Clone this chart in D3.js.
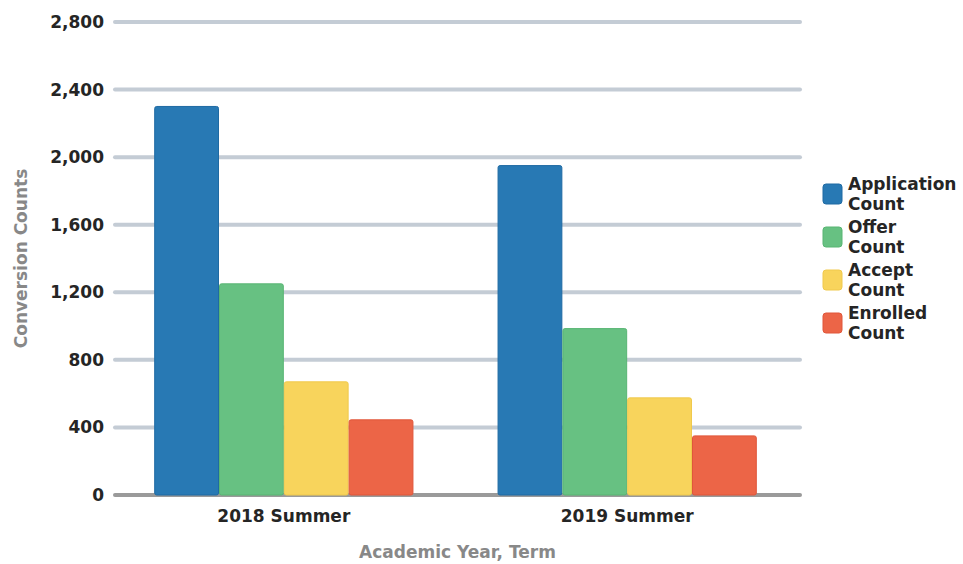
<!doctype html>
<html>
<head>
	<script src="https://d3js.org/d3.v7.min.js"></script>
	<style>
		body { margin: 0; background: #fff; }
		text { font-family: "DejaVu Sans", sans-serif; font-weight: bold; }
	</style>
</head>
<body>
	<svg id="chart" width="963" height="564"></svg>
	<script>
		var terms = ["2018 Summer", "2019 Summer"];
		var seriesNames = ["Application Count", "Offer Count", "Accept Count", "Enrolled Count"];
		var applicationCount = [2300, 1950];
		var offerCount = [1250, 985];
		var acceptCount = [670, 575];
		var enrolledCount = [445, 350];
		var yTicks = [0, 400, 800, 1200, 1600, 2000, 2400, 2800];
		var colors = ["#2879b4", "#67c182", "#f8d45c", "#ec6547"];
		var borders = ["#1f6aa3", "#58b573", "#f0c94c", "#e0563a"];

		var allValues = [applicationCount, offerCount, acceptCount, enrolledCount];

		var svg = d3.select("#chart");
		var plotLeft = 115, plotRight = 800, plotTop = 22, plotBottom = 495;

		var xScale = d3.scaleBand()
			.domain(terms)
			.range([plotLeft - 2, plotRight - 2])
			.paddingInner(0.245)
			.paddingOuter(0.12);

		var xSub = d3.scaleBand()
			.domain(seriesNames)
			.range([0, xScale.bandwidth()]);

		var yScale = d3.scaleLinear()
			.domain([0, 2800])
			.range([plotBottom, plotTop]);

		// gridlines
		svg.append("g")
			.selectAll("line")
			.data(yTicks)
			.enter()
			.append("line")
				.attr("x1", plotLeft)
				.attr("x2", plotRight)
				.attr("y1", d => yScale(d))
				.attr("y2", d => yScale(d))
				.attr("stroke", d => d === 0 ? "#9a9a9a" : "#c4ccd5")
				.attr("stroke-width", 4)
				.attr("stroke-linecap", "round");

		// y tick labels
		var yAxis = d3.axisLeft(yScale).tickValues(yTicks).tickSize(0).tickPadding(11).tickFormat(d3.format(","));
		var yG = svg.append("g")
			.attr("transform", "translate(" + plotLeft + ",0)")
			.call(yAxis);
		yG.select(".domain").remove();
		yG.selectAll("text")
			.attr("fill", "#252525")
			.style("font-size", "17px");

		// bars
		var groups = svg.append("g")
			.selectAll("g")
			.data(terms)
			.enter()
			.append("g")
				.attr("transform", d => "translate(" + xScale(d) + ",0)");

		groups.selectAll("rect")
			.data((d, i) => seriesNames.map((s, j) => ({ series: s, idx: j, value: allValues[j][i] })))
			.enter()
			.append("rect")
				.attr("x", d => xSub(d.series) + 0.5)
				.attr("width", xSub.bandwidth() - 1)
				.attr("y", d => yScale(d.value))
				.attr("height", d => plotBottom - yScale(d.value))
				.attr("rx", 2)
				.attr("fill", d => colors[d.idx])
				.attr("stroke", d => borders[d.idx])
				.attr("stroke-width", 1);

		// x labels
		var xAxis = d3.axisBottom(xScale).tickSize(0).tickPadding(15);
		var xG = svg.append("g")
			.attr("transform", "translate(0," + plotBottom + ")")
			.call(xAxis);
		xG.select(".domain").remove();
		xG.selectAll("text")
			.attr("fill", "#252525")
			.style("font-size", "17px");

		// axis titles
		svg.append("text")
			.attr("transform", "translate(27," + ((plotTop + plotBottom) / 2) + ") rotate(-90)")
			.attr("text-anchor", "middle")
			.attr("fill", "#888")
			.style("font-size", "17px")
			.text("Conversion Counts");

		svg.append("text")
			.attr("x", (plotLeft + plotRight) / 2)
			.attr("y", 558)
			.attr("text-anchor", "middle")
			.attr("fill", "#888")
			.style("font-size", "17px")
			.text("Academic Year, Term");

		// legend
		var legend = svg.append("g")
			.selectAll("g")
			.data(seriesNames)
			.enter()
			.append("g")
				.attr("transform", (d, i) => "translate(823," + (184 + i * 43) + ")");

		legend.append("rect")
			.attr("width", 19)
			.attr("height", 20)
			.attr("rx", 3)
			.attr("fill", (d, i) => colors[i])
			.attr("stroke", (d, i) => borders[i]);

		legend.append("text")
			.attr("x", 25)
			.attr("y", 6)
			.attr("fill", "#252525")
			.style("font-size", "17px")
			.selectAll("tspan")
			.data(d => d.split(" "))
			.enter()
			.append("tspan")
				.attr("x", 25)
				.attr("dy", (d, i) => i === 0 ? 0 : 20)
				.text(d => d);
	</script>
</body>
</html>
